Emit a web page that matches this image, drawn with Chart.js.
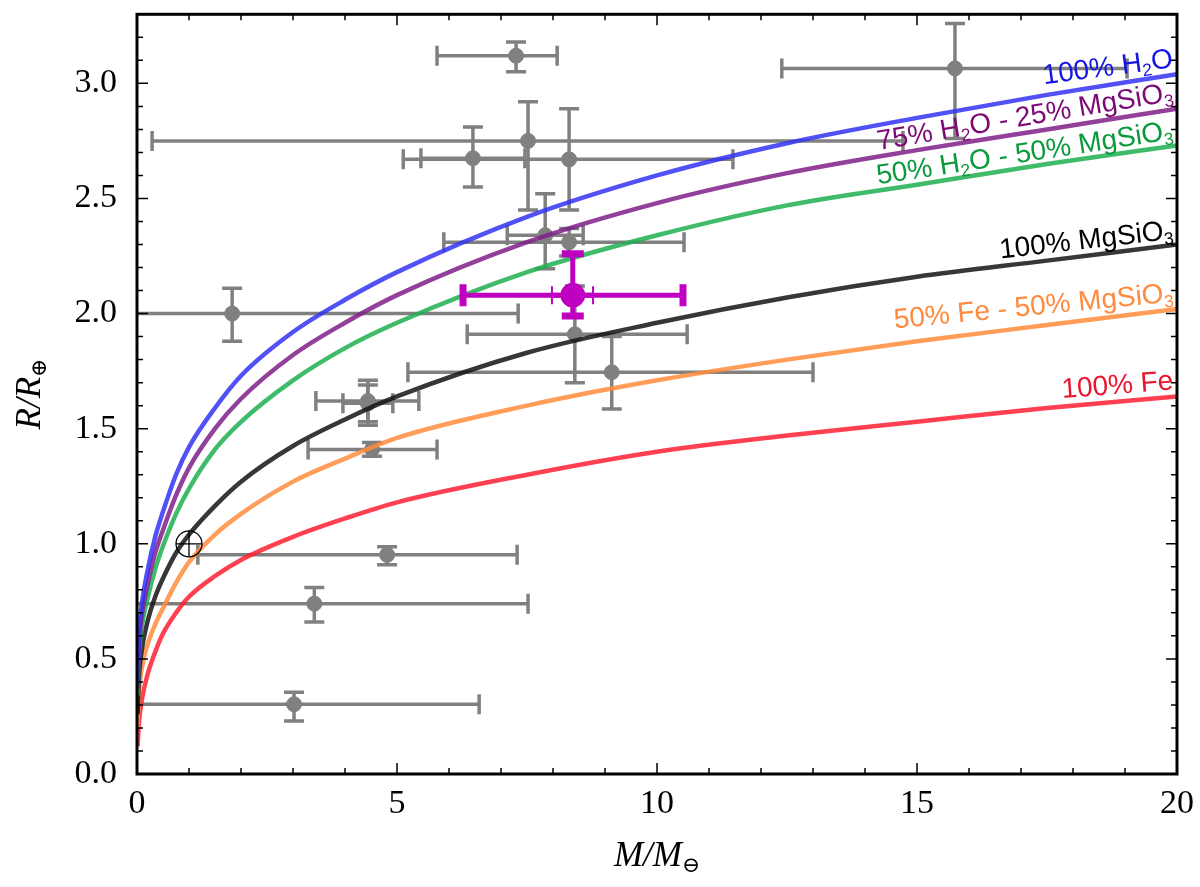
<!DOCTYPE html>
<html>
<head>
<meta charset="utf-8">
<script src="https://cdn.jsdelivr.net/npm/chart.js@4.4.0/dist/chart.umd.min.js"></script>
<style>
    html, body { margin: 0; padding: 0; background: #fff; }
    #wrap { width: 1200px; height: 887px; }
</style>
</head>
<body>
<div id="wrap"><canvas id="mrChart"></canvas></div>
<script>
// mass grid (Earth masses) the model curves were read at
const massGrid = [0.01, 0.04, 0.1, 0.2, 0.35, 0.5, 0.75, 1, 1.5, 2, 3, 4, 5, 7.5, 10, 12.5, 15, 17.5, 20];

// model radii (Earth radii) at each mass
const radiusH2O    = [0.40, 0.61, 0.75, 0.88, 1.03, 1.14, 1.30, 1.42, 1.59, 1.73, 1.92, 2.06, 2.18, 2.42, 2.60, 2.74, 2.85, 2.95, 3.04];
const radiusH2O75  = [0.37, 0.56, 0.70, 0.82, 0.96, 1.06, 1.21, 1.33, 1.50, 1.63, 1.82, 1.96, 2.08, 2.31, 2.48, 2.61, 2.71, 2.80, 2.89];
const radiusH2O50  = [0.34, 0.52, 0.65, 0.76, 0.89, 0.99, 1.13, 1.24, 1.41, 1.53, 1.71, 1.85, 1.96, 2.18, 2.34, 2.47, 2.56, 2.65, 2.73];
const radiusMgSiO3 = [0.26, 0.43, 0.55, 0.66, 0.77, 0.85, 0.96, 1.04, 1.165, 1.27, 1.425, 1.54, 1.64, 1.83, 1.96, 2.07, 2.16, 2.23, 2.30];
const radiusFe50   = [0.20, 0.36, 0.47, 0.56, 0.65, 0.72, 0.83, 0.92, 1.04, 1.13, 1.27, 1.37, 1.46, 1.60, 1.71, 1.80, 1.88, 1.95, 2.02];
const radiusFe     = [0.12, 0.23, 0.33, 0.43, 0.53, 0.61, 0.70, 0.77, 0.86, 0.93, 1.03, 1.11, 1.18, 1.30, 1.40, 1.47, 1.53, 1.59, 1.64];

// known planets: value and lower / upper bounds
const planetMass     = [7.29, 6.46, 7.52, 8.31, 7.85, 8.31, 1.83, 8.42, 9.13, 4.44, 4.44, 4.52, 4.81, 3.41, 3.02, 15.73];
const planetMassLo   = [5.77, 5.46, 0.29, 5.12, 7.12, 5.90, -3.67, 6.35, 5.21, 3.44, 3.96, 3.29, 1.17, -0.70, -0.54, 12.40];
const planetMassHi   = [8.08, 7.46, 14.73, 11.46, 8.58, 10.52, 7.33, 10.58, 13.00, 5.42, 4.92, 5.77, 7.31, 7.52, 6.58, 19.04];
const planetRadius   = [3.12, 2.675, 2.75, 2.67, 2.34, 2.31, 2.00, 1.91, 1.745, 1.62, 1.61, 1.41, 0.952, 0.74, 0.303, 3.065];
const planetRadiusLo = [3.05, 2.55, 2.45, 2.45, 2.195, 2.25, 1.88, 1.70, 1.585, 1.515, 1.53, 1.38, 0.909, 0.66, 0.23, 2.76];
const planetRadiusHi = [3.18, 2.81, 2.92, 2.89, 2.52, 2.37, 2.11, 2.12, 1.90, 1.71, 1.69, 1.44, 0.987, 0.81, 0.355, 3.26];

// highlighted planet
const targetMass = [8.38];
const targetMassLo = [6.27];
const targetMassHi = [10.5];
const targetMassInnerLo = [7.98];
const targetMassInnerHi = [8.77];
const targetRadius = [2.08];
const targetRadiusLo = [1.99];
const targetRadiusHi = [2.26];

// Earth
const earthMass = [1];
const earthRadius = [1];

// axis ticks
const xTickValues = [0, 5, 10, 15, 20];
const yTickValues = [0, 0.5, 1.0, 1.5, 2.0, 2.5, 3.0];

const curveLabels = [
    { runs: [['100% H'], ['2', true], ['O']], x: 19.94, y: 3.07, angle: -7.5, color: '#1414e6' },
    { runs: [['75% H'], ['2', true], ['O - 25% MgSiO'], ['3', true]], x: 19.94, y: 2.925, angle: -9.5, color: '#7d0a74' },
    { runs: [['50% H'], ['2', true], ['O - 50% MgSiO'], ['3', true]], x: 19.94, y: 2.758, angle: -8.7, color: '#0a9a3c' },
    { runs: [['100% MgSiO'], ['3', true]], x: 19.94, y: 2.325, angle: -6.5, color: '#000000' },
    { runs: [['50% Fe - 50% MgSiO'], ['3', true]], x: 19.94, y: 2.052, angle: -5.5, color: '#ff8a3d' },
    { runs: [['100% Fe']], x: 19.94, y: 1.671, angle: -4.5, color: '#e8162e' },
];

const toPoints = (xs, ys) => xs.map((x, i) => ({ x, y: ys[i] }));

function curve(label, radii, color) {
    return {
        label,
        data: toPoints(massGrid, radii),
        showLine: true,
        borderColor: color,
        borderWidth: 4.5,
        pointRadius: 0,
        cubicInterpolationMode: 'monotone',
        order: 3,
    };
}

function richWidth(ctx, runs, size, family) {
    let w = 0;
    runs.forEach(([t, sub, italic]) => {
        ctx.font = `${italic ? 'italic ' : ''}${sub ? size * 0.62 : size}px ${family}`;
        w += ctx.measureText(t).width;
    });
    return w;
}

function drawRich(ctx, runs, x, y, size, family, align) {
    const w = richWidth(ctx, runs, size, family);
    let cx = align === 'right' ? x - w : align === 'center' ? x - w / 2 : x;
    ctx.textAlign = 'left';
    ctx.textBaseline = 'alphabetic';
    runs.forEach(([t, sub, italic]) => {
        ctx.font = `${italic ? 'italic ' : ''}${sub ? size * 0.62 : size}px ${family}`;
        ctx.fillText(t, cx, sub ? y + size * 0.18 : y);
        cx += ctx.measureText(t).width;
    });
}

const errorBarPlugin = {
    id: 'errorBars',
    beforeDatasetDraw(chart, args) {
        const ds = chart.data.datasets[args.index];
        if (!ds.errStyle) return;
        const { ctx, chartArea, scales } = chart;
        const st = ds.errStyle;
        ctx.save();
        ctx.beginPath();
        ctx.rect(chartArea.left, chartArea.top, chartArea.right - chartArea.left, chartArea.bottom - chartArea.top);
        ctx.clip();
        ctx.strokeStyle = st.color;
        ds.data.forEach((p) => {
            const px = scales.x.getPixelForValue(p.x);
            const py = scales.y.getPixelForValue(p.y);
            if (p.xMin !== undefined) {
                const x0 = scales.x.getPixelForValue(p.xMin);
                const x1 = scales.x.getPixelForValue(p.xMax);
                ctx.lineWidth = st.width;
                ctx.beginPath();
                ctx.moveTo(x0, py);
                ctx.lineTo(x1, py);
                ctx.stroke();
                ctx.lineWidth = st.capWidth;
                ctx.beginPath();
                ctx.moveTo(x0, py - st.cap);
                ctx.lineTo(x0, py + st.cap);
                ctx.moveTo(x1, py - st.cap);
                ctx.lineTo(x1, py + st.cap);
                ctx.stroke();
            }
            if (p.yMin !== undefined) {
                const y0 = scales.y.getPixelForValue(p.yMin);
                const y1 = scales.y.getPixelForValue(p.yMax);
                ctx.lineWidth = st.width;
                ctx.beginPath();
                ctx.moveTo(px, y0);
                ctx.lineTo(px, y1);
                ctx.stroke();
                ctx.lineWidth = st.capWidth;
                ctx.beginPath();
                ctx.moveTo(px - st.cap, y0);
                ctx.lineTo(px + st.cap, y0);
                ctx.moveTo(px - st.cap, y1);
                ctx.lineTo(px + st.cap, y1);
                ctx.stroke();
            }
        });
        ctx.restore();
    },
};

const framePlugin = {
    id: 'frame',
    afterDraw(chart) {
        const { ctx, chartArea: a, scales } = chart;
        ctx.save();
        ctx.strokeStyle = '#000';
        ctx.lineWidth = 1.5;
        ctx.beginPath();
        for (let v = 0; v <= 20; v += 1) {
            const px = scales.x.getPixelForValue(v);
            const len = v % 5 === 0 ? 11 : 6;
            ctx.moveTo(px, a.bottom);
            ctx.lineTo(px, a.bottom - len);
            ctx.moveTo(px, a.top);
            ctx.lineTo(px, a.top + len);
        }
        for (let i = 0; i <= 33; i++) {
            const py = scales.y.getPixelForValue(i / 10);
            const len = i % 5 === 0 ? 11 : 6;
            ctx.moveTo(a.left, py);
            ctx.lineTo(a.left + len, py);
            ctx.moveTo(a.right, py);
            ctx.lineTo(a.right - len, py);
        }
        ctx.stroke();
        ctx.lineWidth = 3;
        ctx.strokeRect(a.left, a.top, a.right - a.left, a.bottom - a.top);

        // curve labels
        curveLabels.forEach((lab) => {
            const px = scales.x.getPixelForValue(lab.x);
            const py = scales.y.getPixelForValue(lab.y);
            ctx.save();
            ctx.translate(px, py);
            ctx.rotate(lab.angle * Math.PI / 180);
            ctx.fillStyle = lab.color;
            drawRich(ctx, lab.runs, 0, 0, 28, '"Liberation Sans", Arial, sans-serif', 'right');
            ctx.restore();
        });

        // axis titles
        const serif = '"Liberation Serif", "DejaVu Serif", serif';
        ctx.fillStyle = '#000';
        drawRich(ctx, [['M/M', false, true], ['\u2296', true]], (a.left + a.right) / 2, 866, 35, serif, 'center');
        ctx.save();
        ctx.translate(40, (a.top + a.bottom) / 2);
        ctx.rotate(-Math.PI / 2);
        drawRich(ctx, [['R/R', false, true], ['\u2295', true]], 0, 0, 35, serif, 'center');
        ctx.restore();
        ctx.restore();
    },
};

const planets = planetMass.map((m, i) => ({
    x: m, y: planetRadius[i],
    xMin: planetMassLo[i], xMax: planetMassHi[i],
    yMin: planetRadiusLo[i], yMax: planetRadiusHi[i],
}));

const target = targetMass.map((m, i) => ({
    x: m, y: targetRadius[i],
    xMin: targetMassLo[i], xMax: targetMassHi[i],
    yMin: targetRadiusLo[i], yMax: targetRadiusHi[i],
}));

const targetInner = targetMass.map((m, i) => ({
    x: m, y: targetRadius[i],
    xMin: targetMassInnerLo[i], xMax: targetMassInnerHi[i],
}));

const tickFont = { family: '"Liberation Serif", "DejaVu Serif", serif', size: 34 };

new Chart(document.getElementById('mrChart'), {
    type: 'scatter',
    data: {
        datasets: [
            {
                label: 'Planets',
                data: planets,
                backgroundColor: '#808080',
                borderColor: '#808080',
                pointRadius: 7.5,
                errStyle: { color: '#808080', width: 3.5, cap: 10, capWidth: 3.5 },
                order: 5,
            },
            curve('100% H2O', radiusH2O, 'rgba(50, 50, 245, 0.85)'),
            curve('75% H2O - 25% MgSiO3', radiusH2O75, 'rgba(128, 30, 138, 0.85)'),
            curve('50% H2O - 50% MgSiO3', radiusH2O50, 'rgba(30, 175, 80, 0.85)'),
            curve('100% MgSiO3', radiusMgSiO3, 'rgba(20, 20, 20, 0.85)'),
            curve('50% Fe - 50% MgSiO3', radiusFe50, 'rgba(255, 140, 60, 0.85)'),
            curve('100% Fe', radiusFe, 'rgba(255, 30, 50, 0.85)'),
            {
                label: 'Target inner',
                data: targetInner,
                pointRadius: 0,
                errStyle: { color: '#c000c0', width: 5, cap: 9, capWidth: 2 },
                order: 2,
            },
            {
                label: 'Target',
                data: target,
                backgroundColor: '#c000c0',
                borderColor: '#c000c0',
                pointRadius: 12,
                errStyle: { color: '#c000c0', width: 5, cap: 11, capWidth: 7 },
                order: 1,
            },
            {
                label: 'Earth',
                data: toPoints(earthMass, earthRadius),
                pointStyle: 'circle',
                pointRadius: 13,
                backgroundColor: 'rgba(0,0,0,0)',
                borderColor: '#000',
                borderWidth: 1.3,
                order: 0,
            },
            {
                label: 'Earth cross',
                data: toPoints(earthMass, earthRadius),
                pointStyle: 'cross',
                pointRadius: 13,
                borderColor: '#000',
                borderWidth: 1.3,
                order: 0,
            },
        ],
    },
    options: {
        responsive: true,
        maintainAspectRatio: false,
        animation: false,
        layout: { padding: { top: 12, right: 23, left: 0, bottom: 0 } },
        plugins: {
            legend: { display: false },
            tooltip: { enabled: false },
        },
        scales: {
            x: {
                type: 'linear',
                min: 0,
                max: 20,
                afterFit: (scale) => {
                    scale.height = 113;
                    scale.paddingLeft = 0;
                    scale.paddingRight = 0;
                },
                afterBuildTicks: (scale) => { scale.ticks = xTickValues.map((v) => ({ value: v })); },
                ticks: { font: tickFont, color: '#000', padding: 10, maxRotation: 0 },
                grid: { display: false, drawTicks: false },
                border: { display: false },
            },
            y: {
                type: 'linear',
                min: 0,
                max: 3.3,
                afterFit: (scale) => {
                    scale.width = 137;
                    scale.paddingTop = 0;
                    scale.paddingBottom = 0;
                },
                afterBuildTicks: (scale) => { scale.ticks = yTickValues.map((v) => ({ value: v })); },
                ticks: { font: tickFont, color: '#000', padding: 20, callback: (v) => Number(v).toFixed(1) },
                grid: { display: false, drawTicks: false },
                border: { display: false },
            },
        },
    },
    plugins: [errorBarPlugin, framePlugin],
});
</script>
</body>
</html>
